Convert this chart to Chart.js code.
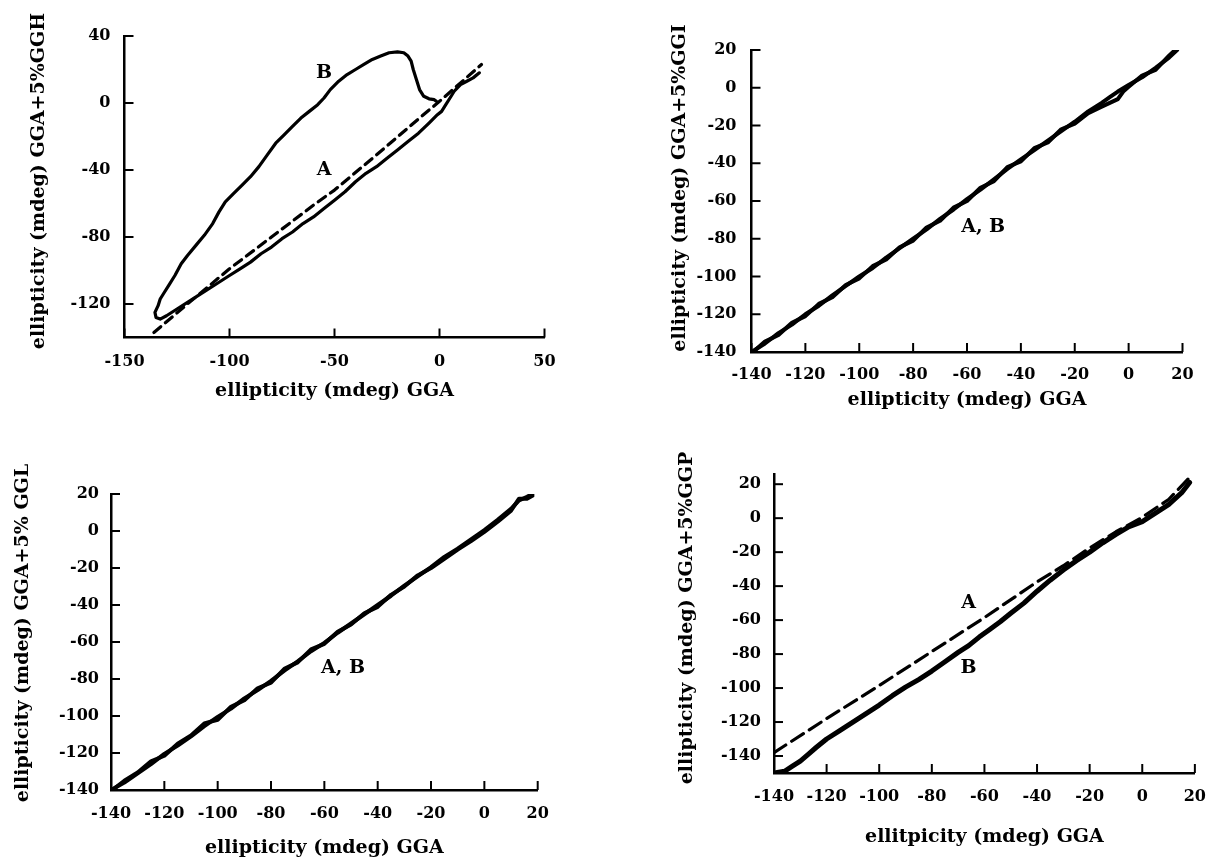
<!DOCTYPE html>
<html>
<head>
<meta charset="utf-8">
<script src="https://cdn.jsdelivr.net/npm/chart.js@4.4.0/dist/chart.umd.min.js"></script>
<style>
  html, body { margin: 0; padding: 0; background: #fff; }
  body { width: 1220px; height: 861px; position: relative; overflow: hidden; }
  canvas { position: absolute; }
</style>
</head>
<body>
<canvas id="c1"></canvas>
<canvas id="c2"></canvas>
<canvas id="c3"></canvas>
<canvas id="c4"></canvas>
<script>
const FONT = "'DejaVu Serif', 'Liberation Serif', serif";

// tick values
const ticks20 = [-140, -120, -100, -80, -60, -40, -20, 0, 20];
const ghXTicks = [-150, -100, -50, 0, 50];
const ghYTicks = [-120, -80, -40, 0, 40];

// GGA+5%GGH : A dashed, B solid loop
const ghA = [[-136,-137],[-120,-120],[-100,-99],[-80,-80],[-60,-61],[-50,-52],[-30,-31],[-10,-9.5],[0,1],[10,12],[20,23]];
const ghB = [[19,18],[16,15],[13,13],[10,11],[7,7],[5,3],[3,-1],[1,-5],[-1,-7],[-5,-12],[-10,-18],[-15,-23],[-20,-28],
  [-25,-33],[-30,-38],[-35,-42],[-40,-47],[-45,-53],[-50,-58],[-55,-63],[-60,-68],[-65,-72],[-70,-77],[-75,-81],
  [-80,-86],[-85,-90],[-90,-95],[-95,-99],[-100,-103],[-105,-107],[-110,-111],[-115,-115],[-120,-119],[-125,-123],
  [-130,-127],[-133,-129],[-135,-128],[-135.5,-125],[-134,-121],[-133,-117],[-131,-113],[-129,-109],[-126,-103],
  [-123,-96],[-120,-91],[-116,-85],[-112,-79],[-108,-72],[-105,-65],[-102,-59],[-98,-54],[-94,-49],[-90,-44],
  [-86,-38],[-82,-31],[-78,-24],[-74,-19],[-70,-14],[-66,-9],[-62,-5],[-58,-1],[-55,3],[-52,8],[-48,13],[-44,17],
  [-40,20],[-36,23],[-32,26],[-28,28],[-24,30],[-20,30.5],[-17,30],[-15,28],[-13.5,25],[-12.5,20],[-11,14],
  [-9.5,8],[-7.5,4],[-5,2.5],[-2.5,2],[-1.5,1]];

// GGA+5%GGI : A and B nearly on top of each other
const giA = [[-140,-140],[-135,-135.5],[-130,-130],[-125,-125.5],[-120,-120],[-115,-115.5],[-110,-110],[-105,-105],
  [-100,-100],[-95,-95.5],[-90,-90],[-85,-85],[-80,-80],[-75,-75],[-70,-69.5],[-65,-64.5],[-60,-59],[-55,-54],
  [-50,-48.5],[-45,-43],[-40,-38],[-35,-33],[-30,-28],[-25,-23],[-20,-18],[-15,-12.5],[-10,-8],[-7,-5],[-4,-2],
  [0,1.5],[5,5.5],[10,10.5],[15,16],[18,20]];
const giB = [[-139,-139.5],[-135,-134.5],[-130,-131],[-125,-124.5],[-120,-121],[-115,-114.5],[-110,-111],[-105,-104.5],
  [-100,-101],[-95,-94.5],[-90,-91],[-85,-84.5],[-80,-81],[-75,-74],[-70,-70.5],[-65,-63.5],[-60,-60],[-55,-53],
  [-50,-49.5],[-45,-42],[-40,-39],[-35,-32],[-30,-29],[-25,-22],[-20,-19],[-15,-13.5],[-10,-10],[-7,-8],[-4,-6],
  [-2,-2],[0,0.5],[5,6.5],[10,9.5],[15,17],[18,21]];

// GGA+5% GGL
const glA = [[-140,-140],[-135,-136],[-130,-131],[-125,-126],[-120,-120.5],[-115,-116],[-110,-111],[-105,-105.5],
  [-100,-100.5],[-95,-96],[-90,-90.5],[-85,-86],[-80,-81],[-75,-75.5],[-70,-70.5],[-65,-65],[-60,-60.5],[-55,-55],
  [-50,-50],[-45,-45],[-40,-40],[-35,-35],[-30,-29.5],[-25,-24.5],[-20,-19.5],[-15,-14],[-10,-9.5],[-5,-4.5],
  [0,0.5],[5,6],[10,12],[13,16.5],[16,18.5],[18,20]];
const glB = [[-139,-139.5],[-135,-135],[-130,-130.5],[-125,-124.5],[-120,-121.5],[-115,-115],[-110,-110.5],[-105,-104],
  [-100,-102],[-95,-95],[-90,-91.5],[-85,-85],[-80,-82],[-75,-74.5],[-70,-71],[-65,-64],[-60,-61],[-55,-54.5],
  [-50,-50.5],[-45,-44.5],[-40,-41],[-35,-34.5],[-30,-30],[-25,-24],[-20,-20],[-15,-15],[-10,-10],[-5,-5.5],
  [0,-0.5],[5,5],[10,11],[13,17.5],[16,17.5],[18,19]];

// GGA+5%GGP : A dashed, B solid
const gpA = [[-140,-138],[-120,-118],[-100,-98.5],[-80,-78.5],[-60,-58.5],[-40,-37.5],[-30,-28],[-20,-17.5],
  [-10,-8],[0,0.5],[10,11],[18,24]];
const gpB = [[-140,-150],[-136,-149],[-133,-146],[-130,-143],[-127,-139],[-124,-135],[-120,-130],[-115,-125],
  [-110,-120],[-105,-115],[-100,-110],[-95,-104.5],[-90,-99.5],[-85,-95],[-80,-90],[-75,-84.5],[-70,-79],
  [-66,-75],[-62,-70],[-58,-65.5],[-54,-61],[-50,-56],[-45,-50],[-40,-43],[-35,-36.5],[-30,-30.5],[-25,-25],
  [-20,-20],[-15,-14.5],[-10,-9.5],[-5,-5],[0,-2],[5,3],[10,8],[15,15],[18,21]];

// curve labels [text, x, y]
const ghNotes = [['B', -55, 18], ['A', -55, -40]];
const giNotes = [['A, B', -54, -74]];
const glNotes = [['A, B', -53, -74]];
const gpNotes = [['A', -66, -50], ['B', -66, -88]];

// tick marks drawn inside the axes
const inwardTicks = {
  id: 'inwardTicks',
  afterDraw(chart) {
    const {ctx, chartArea: a, scales: {x, y}} = chart;
    ctx.save();
    ctx.strokeStyle = '#000';
    ctx.lineWidth = 2;
    x.ticks.forEach(t => {
      const px = x.getPixelForValue(t.value);
      ctx.beginPath(); ctx.moveTo(px, a.bottom); ctx.lineTo(px, a.bottom - 9); ctx.stroke();
    });
    y.ticks.forEach(t => {
      const py = y.getPixelForValue(t.value);
      ctx.beginPath(); ctx.moveTo(a.left, py); ctx.lineTo(a.left + 9, py); ctx.stroke();
    });
    ctx.restore();
  }
};

// rotated y title, drawn by hand so it is not squeezed to the axis height
const yTitle = {
  id: 'yTitle',
  afterDraw(chart, args, opts) {
    const ctx = chart.ctx;
    ctx.save();
    ctx.translate(opts.x, opts.y);
    ctx.rotate(-Math.PI / 2);
    ctx.font = 'bold 19px ' + FONT;
    ctx.fillStyle = '#000';
    ctx.textAlign = 'center';
    ctx.textBaseline = 'middle';
    ctx.fillText(opts.text, 0, 0);
    ctx.restore();
  }
};

const notes = {
  id: 'notes',
  afterDatasetsDraw(chart, args, opts) {
    const {ctx, scales: {x, y}} = chart;
    ctx.save();
    ctx.font = 'bold 19px ' + FONT;
    ctx.fillStyle = '#000';
    ctx.textAlign = 'center';
    ctx.textBaseline = 'middle';
    opts.items.forEach(n => ctx.fillText(n[0], x.getPixelForValue(n[1]), y.getPixelForValue(n[2])));
    ctx.restore();
  }
};

const panels = [
  { id: 'c1', box: [0, 0, 610, 430], area: [124.5, 36, 544.5, 337.5], xr: [-150, 50], yr: [-140, 40],
    xt: ghXTicks, yt: ghYTicks, xTitle: 'ellipticity (mdeg) GGA', yTitle: 'ellipticity (mdeg) GGA+5%GGH',
    yTitlePos: [39, 181], xTitleY: 391, xPad: 15, yPad: 14,
    series: [{pts: ghA, w: 3.2, dash: [9, 6]}, {pts: ghB, w: 3.2}], notes: ghNotes },
  { id: 'c2', box: [610, 0, 610, 430], area: [751.5, 50, 1182.5, 352], xr: [-140, 20], yr: [-140, 20],
    xt: ticks20, yt: ticks20, xTitle: 'ellipticity (mdeg) GGA', yTitle: 'ellipticity (mdeg) GGA+5%GGI',
    yTitlePos: [680, 188], xTitleY: 400, xPad: 13, yPad: 15,
    series: [{pts: giA, w: 4}, {pts: giB, w: 4}], notes: giNotes },
  { id: 'c3', box: [0, 430, 610, 431], area: [111, 494, 537.7, 790], xr: [-140, 20], yr: [-140, 20],
    xt: ticks20, yt: ticks20, xTitle: 'ellipticity (mdeg) GGA', yTitle: 'ellipticity (mdeg) GGA+5% GGL',
    yTitlePos: [23, 633], xTitleY: 848, xPad: 14, yPad: 12,
    series: [{pts: glA, w: 4}, {pts: glB, w: 4}], notes: glNotes },
  { id: 'c4', box: [610, 430, 610, 431], area: [774, 474, 1206, 773], xr: [-140, 20], yr: [-150, 26],
    xt: ticks20, yt: ticks20, xTitle: 'ellitpicity (mdeg) GGA', yTitle: 'ellipticity (mdeg) GGA+5%GGP',
    yTitlePos: [687, 618], xTitleY: 837, xPad: 14, yPad: 13,
    series: [{pts: gpA, w: 3.2, dash: [14, 7]}, {pts: gpB, w: 5}], notes: gpNotes }
];

function build(p) {
  const [bl, bt, bw, bh] = p.box;
  const c = document.getElementById(p.id);
  c.width = bw; c.height = bh;
  c.style.left = bl + 'px'; c.style.top = bt + 'px';
  const left = p.area[0] - bl, top = p.area[1] - bt, right = p.area[2] - bl, bottom = p.area[3] - bt;
  const xBottom = p.xTitleY - bt + 19 * 1.2 / 2;
  const tickFont = {family: FONT, size: 16, weight: 'bold'};

  new Chart(c, {
    type: 'scatter',
    data: {
      datasets: p.series.map(s => ({
        data: s.pts.map(q => ({x: q[0], y: q[1]})),
        showLine: true,
        borderColor: '#000',
        backgroundColor: '#000',
        borderWidth: s.w,
        borderDash: s.dash || [],
        borderCapStyle: 'round',
        borderJoinStyle: 'round',
        pointRadius: 0,
        pointHoverRadius: 0,
        tension: 0
      }))
    },
    options: {
      responsive: false,
      animation: false,
      events: [],
      layout: { padding: { left: 0, top: top, right: bw - right, bottom: bh - xBottom } },
      plugins: {
        legend: { display: false },
        tooltip: { enabled: false },
        yTitle: { text: p.yTitle, x: p.yTitlePos[0] - bl, y: p.yTitlePos[1] - bt },
        notes: { items: p.notes }
      },
      scales: {
        x: {
          type: 'linear', position: 'bottom', min: p.xr[0], max: p.xr[1],
          afterBuildTicks: s => { s.ticks = p.xt.map(v => ({value: v})); },
          afterFit: s => { s.height = xBottom - bottom; },
          grid: { drawOnChartArea: false, drawTicks: false },
          border: { display: true, color: '#000', width: 2.5 },
          ticks: { padding: p.xPad, autoSkip: false, maxRotation: 0, color: '#000', font: tickFont,
                   callback: v => String(v) },
          title: { display: true, text: p.xTitle, color: '#000', padding: 0,
                   font: {family: FONT, size: 19, weight: 'bold'} }
        },
        y: {
          type: 'linear', position: 'left', min: p.yr[0], max: p.yr[1],
          afterBuildTicks: s => { s.ticks = p.yt.map(v => ({value: v})); },
          afterFit: s => { s.width = left; },
          grid: { drawOnChartArea: false, drawTicks: false },
          border: { display: true, color: '#000', width: 2.5 },
          ticks: { padding: p.yPad, autoSkip: false, color: '#000', font: tickFont,
                   callback: v => String(v) }
        }
      }
    },
    plugins: [inwardTicks, yTitle, notes]
  });
}

panels.forEach(build);
</script>
</body>
</html>
